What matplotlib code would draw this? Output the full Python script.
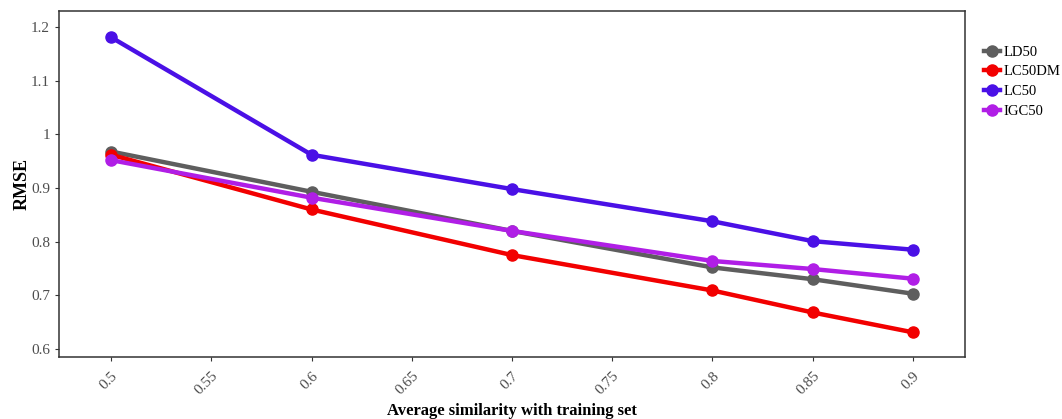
import matplotlib.pyplot as plt
import matplotlib

matplotlib.rcParams['font.family'] = ['Liberation Serif', 'DejaVu Serif']

# data
similarity = [0.5, 0.6, 0.7, 0.8, 0.85, 0.9]
ld50 = [0.968, 0.893, 0.820, 0.752, 0.730, 0.703]
lc50dm = [0.962, 0.860, 0.775, 0.709, 0.668, 0.631]
lc50 = [1.181, 0.962, 0.898, 0.838, 0.801, 0.785]
igc50 = [0.952, 0.882, 0.820, 0.764, 0.749, 0.731]

x_ticks = [0.5, 0.55, 0.6, 0.65, 0.7, 0.75, 0.8, 0.85, 0.9]
y_ticks = [0.6, 0.7, 0.8, 0.9, 1.0, 1.1, 1.2]
y_tick_labels = ['0.6', '0.7', '0.8', '0.9', '1', '1.1', '1.2']

series = [
    ('LD50', ld50, '#5e5e5e'),
    ('LC50DM', lc50dm, '#f20000'),
    ('LC50', lc50, '#4a10e6'),
    ('IGC50', igc50, '#b01ee6'),
]

fig = plt.figure(figsize=(10.62, 4.19), dpi=100)
ax = fig.add_axes([59 / 1062, 62 / 419, 906 / 1062, 346 / 419])

for name, vals, col in series:
    ax.plot(similarity, vals, color=col, linewidth=3.2, marker='o',
            markersize=8, label=name)

ax.set_xlim(0.474, 0.926)
ax.set_ylim(0.585, 1.23)
ax.set_xticks(x_ticks)
ax.set_xticklabels([f'{t:g}' for t in x_ticks], rotation=45, fontsize=11,
                   color='#4d4d4d', ha='right', rotation_mode='anchor')
ax.set_yticks(y_ticks)
ax.set_yticklabels(y_tick_labels, fontsize=11, color='#4d4d4d')
ax.tick_params(axis='both', length=3, color='#333333')
ax.tick_params(axis='x', pad=6)

for s in ax.spines.values():
    s.set_linewidth(1.1)
    s.set_color('#333333')

ax.set_xlabel('Average similarity with training set', fontsize=12,
              fontweight='bold', labelpad=4)
ax.set_ylabel('RMSE', fontsize=13, fontweight='bold', labelpad=0)

leg = ax.legend(loc='upper left', bbox_to_anchor=(1.01, 0.93), frameon=False,
                fontsize=10.5, handlelength=1.1, handletextpad=0.2,
                labelspacing=0.45, borderaxespad=0.3)

plt.savefig('out.png', dpi=100)
